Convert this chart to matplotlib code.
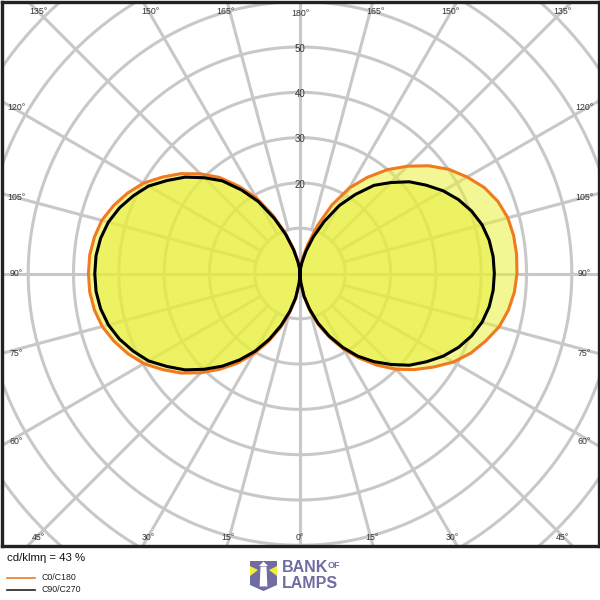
import numpy as np
import matplotlib
matplotlib.use("Agg")
import matplotlib.pyplot as plt
from matplotlib.patches import Polygon

plt.rcParams['font.family'] = ['Liberation Sans', 'DejaVu Sans']

# gamma angles (0 = straight down, 180 = straight up), step 5 deg
gamma = list(range(0, 181, 5))

# cd/klm values
c0_right = [0, 2, 5.1, 8.6, 12.2, 15.7, 19.3, 22.8, 26.4, 29.9, 33, 36, 39.1, 41.6, 43.6,
            45.5, 46.7, 47.5, 47.9, 48, 47.9, 47.5, 46.5, 44.9, 42.6, 40.1, 37, 33.5, 29.9,
            25.9, 21.8, 16.7, 11.2, 6.6, 3.6, 1.5, 0]
c180_left = [0, 2.2, 5.7, 9.1, 12.8, 16.6, 20.5, 24.2, 27.6, 31, 34.2, 37, 39.8, 41.9,
             43.7, 45.2, 46.1, 46.6, 46.7, 46.6, 46.1, 45.3, 43.8, 42, 39.9, 37.1, 34.3,
             31.1, 27.7, 23.5, 19.3, 14.2, 9.6, 5.7, 2.8, 1.1, 0]
c90_right = [0, 2, 5.1, 8.1, 11.7, 15.2, 18.8, 22.3, 25.4, 28.4, 31.5, 34, 36.5, 38.6,
             40.3, 41.6, 42.4, 42.8, 42.9, 42.8, 42.4, 41.6, 40.3, 38.6, 36.5, 34, 31.5,
             28.4, 25.4, 21.3, 17.3, 12.7, 8.6, 5.1, 2.5, 1, 0]
c270_left = [0, 2, 5.4, 8.6, 12.2, 16, 19.8, 23.3, 26.7, 29.9, 33.1, 35.8, 38.6, 40.6,
             42.4, 43.8, 44.7, 45.2, 45.3, 45.2, 44.7, 43.8, 42.4, 40.6, 38.6, 35.8, 33.1,
             29.9, 26.7, 22.5, 18.3, 13.4, 9.1, 5.4, 2.6, 1, 0]

ring_values = [10, 20, 30, 40, 50, 60, 70, 80, 90, 100]
ring_labels = [20, 30, 40, 50]
spoke_angles = list(range(0, 181, 15))
efficiency = "cd/klmη = 43 %"

# angle label spots (pixels) for the left half, mirrored for the right
label_spots = {135: (38, 12), 150: (150, 12), 165: (225, 12), 180: (300, 13),
               120: (16, 108), 105: (16, 197), 90: (16, 273), 75: (16, 353), 60: (16, 441),
               45: (38, 537), 30: (148, 537), 15: (228, 537), 0: (300, 537)}

grid_col = '#c8c8c8'
orange = '#f07a1e'
fill_col = '#e8ef3a'
px = 4.53  # pixels per cd/klm

fig = plt.figure(figsize=(6, 6), dpi=100)
ax = fig.add_axes([1.5 / 600, (600 - 545.5) / 600, 597 / 600, 544 / 600])
ax.set_xlim(-298.5 / px, 298.5 / px)
ax.set_ylim(-272 / px, 272 / px)
ax.set_xticks([])
ax.set_yticks([])
for s in ax.spines.values():
    s.set_linewidth(2.4)
    s.set_color('#222222')
    s.set_zorder(10)


def to_xy(g, r, side):
    g = np.radians(np.asarray(g, dtype=float))
    r = np.asarray(r, dtype=float)
    return side * r * np.sin(g), -r * np.cos(g)


# grid
t = np.linspace(0, 2 * np.pi, 400)
for rv in ring_values:
    ax.plot(rv * np.cos(t), rv * np.sin(t), color=grid_col, lw=2.2, zorder=1)
for a in spoke_angles:
    r0 = 0 if a in (0, 90, 180) else ring_values[0]
    for side in (1, -1):
        x, y = to_xy([a, a], [r0, 120], side)
        ax.plot(x, y, color=grid_col, lw=2.2, zorder=1)


def outline(right, left):
    xr, yr = to_xy(gamma, right, 1)
    xl, yl = to_xy(gamma[::-1], left[::-1], -1)
    return np.concatenate([xr, xl]), np.concatenate([yr, yl])


xo, yo = outline(c0_right, c180_left)
xb, yb = outline(c90_right, c270_left)
ax.fill(xo, yo, color=fill_col, alpha=0.55, lw=0, zorder=2)
ax.fill(xb, yb, color=fill_col, alpha=0.55, lw=0, zorder=2)
ax.plot(xo, yo, color=orange, lw=2.2, zorder=3, solid_joinstyle='round')
ax.plot(xb, yb, color='black', lw=2.2, zorder=4, solid_joinstyle='round')

# ring labels on the vertical axis
for rv in ring_labels:
    ax.text(0, rv - 0.4, str(rv), ha='center', va='center', fontsize=7, color='#333333', zorder=5)

# overlay in pixel coords for angle labels, legend and logo
ov = fig.add_axes([0, 0, 1, 1])
ov.set_xlim(0, 600)
ov.set_ylim(600, 0)
ov.axis('off')

for a, (lx, ly) in label_spots.items():
    ov.text(lx, ly, '%d°' % a, ha='center', va='center', fontsize=6.3, color='#333333')
    if a not in (0, 180):
        ov.text(600 - lx, ly, '%d°' % a, ha='center', va='center', fontsize=6.3, color='#333333')

ov.text(7, 558, efficiency, fontsize=8.2, va='center', ha='left', color='#111111')
ov.plot([7, 35], [578, 578], color=orange, lw=1.2)
ov.plot([7, 35], [590, 590], color='#222222', lw=1.2)
ov.text(42, 578, 'C0/C180', fontsize=6.3, va='center', color='#222222')
ov.text(42, 590, 'C90/C270', fontsize=6.3, va='center', color='#222222')

logo = '#6e6ca0'
ov.add_patch(Polygon([(250, 561), (277, 561), (277, 585), (263.5, 591), (250, 585)],
                     closed=True, color=logo, lw=0))
ov.add_patch(Polygon([(250, 566), (258, 570), (250, 576)], closed=True, color='#f2ee3a', lw=0))
ov.add_patch(Polygon([(277, 566), (269, 570), (277, 576)], closed=True, color='#f2ee3a', lw=0))
ov.add_patch(Polygon([(260, 566), (267, 566), (268, 587), (259, 587)], closed=True,
                     facecolor='white', edgecolor=logo, lw=0.8))
ov.add_patch(Polygon([(259, 566), (263.5, 561.5), (268, 566)], closed=True, color='white', lw=0))
ov.text(282, 567, 'BANK', fontsize=11.5, fontweight='bold', color=logo, va='center', ha='left')
ov.text(328, 565.5, 'OF', fontsize=6.5, fontweight='bold', color=logo, va='center', ha='left')
ov.text(282, 583, 'LAMPS', fontsize=11.5, fontweight='bold', color=logo, va='center', ha='left')

fig.savefig('out.png', dpi=100)
